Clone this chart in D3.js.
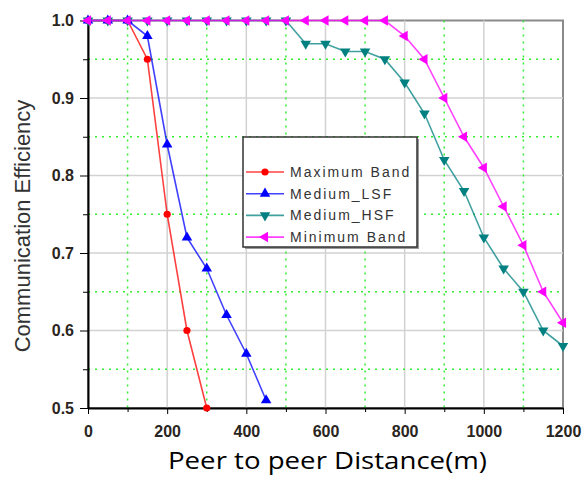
<!DOCTYPE html>
<html lang="en">
<head>
  <meta charset="UTF-8" />
  <title>communication efficiency</title>
  <script src="https://d3js.org/d3.v7.min.js" charset="utf-8"></script>
  <style>
    body { margin: 0; background: #fff; }
  </style>
</head>
<body>
<script type="text/javascript">

const WIDTH = 584;
const HEIGHT = 477;
const PLOT = {left: 88, right: 563, top: 20.5, bottom: 408};

// Series data
const maxBandX = [0, 50, 100, 150, 200, 250, 300];
const maxBandY = [1.0, 1.0, 1.0, 0.95, 0.75, 0.60, 0.50];
const lsfX = [0, 50, 100, 150, 200, 250, 300, 350, 400, 450];
const lsfY = [1.0, 1.0, 1.0, 0.98, 0.84, 0.72, 0.68, 0.62, 0.57, 0.51];
const hsfX = [0, 50, 100, 150, 200, 250, 300, 350, 400, 450, 500, 550, 600, 650, 700, 750, 800, 850, 900, 950, 1000, 1050, 1100, 1150, 1200];
const hsfY = [1.0, 1.0, 1.0, 1.0, 1.0, 1.0, 1.0, 1.0, 1.0, 1.0, 1.0, 0.97, 0.97, 0.96, 0.96, 0.95, 0.92, 0.88, 0.82, 0.78, 0.72, 0.68, 0.65, 0.60, 0.58];
const minBandX = [0, 50, 100, 150, 200, 250, 300, 350, 400, 450, 500, 550, 600, 650, 700, 750, 800, 850, 900, 950, 1000, 1050, 1100, 1150, 1200];
const minBandY = [1.0, 1.0, 1.0, 1.0, 1.0, 1.0, 1.0, 1.0, 1.0, 1.0, 1.0, 1.0, 1.0, 1.0, 1.0, 1.0, 0.98, 0.95, 0.90, 0.85, 0.81, 0.76, 0.71, 0.65, 0.61];

const xTicks = [0, 200, 400, 600, 800, 1000, 1200];
const xMinor = [100, 300, 500, 700, 900, 1100];
const yTicks = [0.5, 0.6, 0.7, 0.8, 0.9, 1.0];
const yMinor = [0.55, 0.65, 0.75, 0.85, 0.95];

const series = [
    {name: "Maximum Band", color: "#ff0000", symbol: "circle", xs: maxBandX, ys: maxBandY},
    {name: "Medium_LSF", color: "#0000ff", symbol: "up", xs: lsfX, ys: lsfY},
    {name: "Medium_HSF", color: "#008080", symbol: "down", xs: hsfX, ys: hsfY},
    {name: "Minimum Band", color: "#ff00ff", symbol: "left", xs: minBandX, ys: minBandY}
];

var svg = d3.select("body")
    .append("svg")
        .attr("width", WIDTH)
        .attr("height", HEIGHT);

const x = d3.scaleLinear().domain([0, 1200]).range([PLOT.left, PLOT.right]);
const y = d3.scaleLinear().domain([0.5, 1.0]).range([PLOT.bottom, PLOT.top]);

// Frame (top/right)
svg.append("rect")
    .attr("x", PLOT.left)
    .attr("y", PLOT.top)
    .attr("width", PLOT.right - PLOT.left)
    .attr("height", PLOT.bottom - PLOT.top)
    .attr("fill", "none")
    .attr("stroke", "#8a8a8a")
    .attr("stroke-width", 2);

// Grid: grey solid on major, green dotted on minor
svg.append("g")
    .selectAll("line")
    .data(xTicks.slice(1, -1))
    .join("line")
        .attr("x1", d => x(d)).attr("x2", d => x(d))
        .attr("y1", PLOT.top).attr("y2", PLOT.bottom)
        .attr("stroke", "#d2d2d2").attr("stroke-width", 1.5);
svg.append("g")
    .selectAll("line")
    .data(yTicks.slice(1, -1))
    .join("line")
        .attr("x1", PLOT.left).attr("x2", PLOT.right)
        .attr("y1", d => y(d)).attr("y2", d => y(d))
        .attr("stroke", "#d2d2d2").attr("stroke-width", 1.5);
svg.append("g")
    .selectAll("line")
    .data(xMinor)
    .join("line")
        .attr("x1", d => x(d)).attr("x2", d => x(d))
        .attr("y1", PLOT.top).attr("y2", PLOT.bottom)
        .attr("stroke", "#33ee33").attr("stroke-width", 1.5)
        .attr("stroke-dasharray", "2,5");
svg.append("g")
    .selectAll("line")
    .data(yMinor)
    .join("line")
        .attr("x1", PLOT.left).attr("x2", PLOT.right)
        .attr("y1", d => y(d)).attr("y2", d => y(d))
        .attr("stroke", "#33ee33").attr("stroke-width", 1.5)
        .attr("stroke-dasharray", "2,5");

// Axes
const tickStyle = g => g.selectAll("text")
    .attr("font-family", "Liberation Sans, Arial, sans-serif")
    .attr("font-weight", "bold")
    .attr("font-size", "16px")
    .attr("fill", "#2a2520");

svg.append("g")
    .attr("transform", `translate(0,${PLOT.bottom})`)
    .call(d3.axisBottom(x).tickValues(xMinor).tickSize(4).tickFormat(""))
    .call(g => g.select(".domain").remove());
svg.append("g")
    .attr("transform", `translate(0,${PLOT.bottom})`)
    .call(d3.axisBottom(x).tickValues(xTicks).tickSize(6).tickSizeOuter(0).tickPadding(12).tickFormat(d3.format("d")))
    .call(g => g.select(".domain").attr("stroke-width", 2))
    .call(tickStyle);

svg.append("g")
    .attr("transform", `translate(${PLOT.left},0)`)
    .call(d3.axisLeft(y).tickValues(yMinor).tickSize(5).tickFormat(""))
    .call(g => g.select(".domain").remove());
svg.append("g")
    .attr("transform", `translate(${PLOT.left},0)`)
    .call(d3.axisLeft(y).tickValues(yTicks).tickSize(8).tickSizeOuter(0).tickPadding(6).tickFormat(d3.format(".1f")))
    .call(g => g.select(".domain").attr("stroke-width", 2))
    .call(tickStyle);

// Axis titles
svg.append("text")
    .attr("transform", "translate(30,226) rotate(-90)")
    .attr("text-anchor", "middle")
    .attr("font-family", "Liberation Sans, Arial, sans-serif")
    .attr("font-size", "22px")
    .attr("fill", "#333")
    .text("Communication Efficiency");
svg.append("text")
    .attr("x", 168)
    .attr("y", 469)
    .attr("font-family", "Open Sans, sans-serif")
    .attr("font-size", "23px")
    .attr("textLength", 319)
    .attr("lengthAdjust", "spacingAndGlyphs")
    .attr("fill", "#000")
    .text("Peer to peer Distance(m)");

// Marker shapes
function marker(sel, s, color) {
    if (s.symbol === "circle") {
        sel.append("circle").attr("r", 3.6).attr("fill", color);
    } else {
        const rot = {up: 0, down: 180, left: -90}[s.symbol];
        sel.append("path")
            .attr("d", d3.symbol(d3.symbolTriangle, 48)())
            .attr("transform", `rotate(${rot})`)
            .attr("fill", color);
    }
}

// Lines + markers
const line = d3.line().x(d => x(d[0])).y(d => y(d[1]));
series.forEach(s => {
    const pts = s.xs.map((v, i) => [v, s.ys[i]]);
    const g = svg.append("g");
    g.append("path")
        .datum(pts)
        .attr("d", line)
        .attr("fill", "none")
        .attr("stroke", s.color)
        .attr("stroke-opacity", 0.75)
        .attr("stroke-width", 1.6);
    g.selectAll("g")
        .data(pts)
        .join("g")
            .attr("transform", d => `translate(${x(d[0])},${y(d[1])})`)
            .each(function() { marker(d3.select(this), s, s.color); });
});

// Legend
const legend = svg.append("g").attr("transform", "translate(243,137)");
legend.append("rect")
    .attr("x", 2).attr("y", 2)
    .attr("width", 174).attr("height", 110)
    .attr("fill", "#999");
legend.append("rect")
    .attr("width", 174).attr("height", 110)
    .attr("fill", "#fff")
    .attr("stroke", "#333")
    .attr("stroke-width", 1.5);
series.forEach((s, i) => {
    const ly = 35 + i * 21.7;
    legend.append("line")
        .attr("x1", 3).attr("x2", 41)
        .attr("y1", ly).attr("y2", ly)
        .attr("stroke", s.color)
        .attr("stroke-opacity", 0.75)
        .attr("stroke-width", 1.6);
    marker(legend.append("g").attr("transform", `translate(22,${ly})`), s, s.color);
    legend.append("text")
        .attr("x", 47)
        .attr("y", ly + 5)
        .attr("font-family", "Liberation Sans, Arial, sans-serif")
        .attr("font-size", "14px")
        .attr("letter-spacing", "2px")
        .attr("fill", "#333")
        .text(s.name);
});

</script>
</body>
</html>
